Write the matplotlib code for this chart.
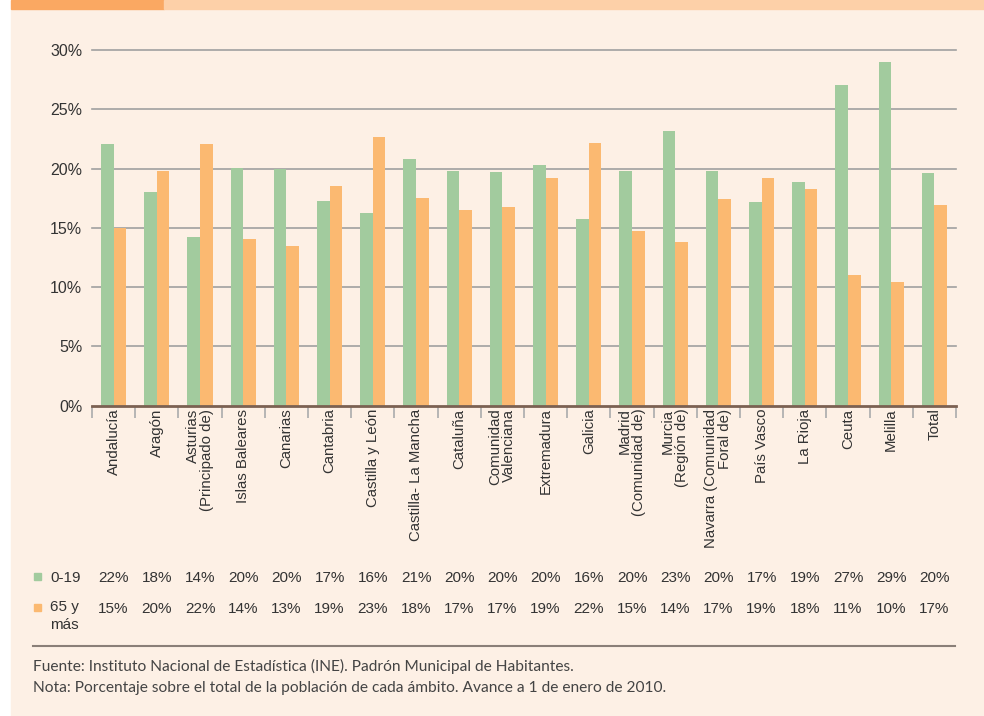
import numpy as np
import matplotlib.pyplot as plt
from matplotlib.patches import Rectangle
from matplotlib.ticker import FixedLocator
import matplotlib.transforms as mtransforms

# ---- datos ----
comunidades = [
    "Andalucía", "Aragón", "Asturias\n(Principado de)", "Islas Baleares",
    "Canarias", "Cantabria", "Castilla y León", "Castilla- La Mancha",
    "Cataluña", "Comunidad\nValenciana", "Extremadura", "Galicia",
    "Madrid\n(Comunidad de)", "Murcia\n(Región de)", "Navarra (Comunidad\nForal de)",
    "País Vasco", "La Rioja", "Ceuta", "Melilla", "Total",
]
jovenes = [22.07, 18.03, 14.23, 20.05, 19.97, 17.27, 16.26, 20.81, 19.80, 19.71,
           20.29, 15.75, 19.80, 23.17, 19.80, 17.18, 18.87, 27.05, 28.99, 19.63]
mayores = [15.0, 19.80, 22.07, 14.06, 13.47, 18.53, 22.66, 17.49, 16.51, 16.76,
           19.21, 22.16, 14.74, 13.81, 17.44, 19.21, 18.28, 11.03, 10.44, 16.93]
tabla_jovenes = ["22%", "18%", "14%", "20%", "20%", "17%", "16%", "21%", "20%", "20%",
                 "20%", "16%", "20%", "23%", "20%", "17%", "19%", "27%", "29%", "20%"]
tabla_mayores = ["15%", "20%", "22%", "14%", "13%", "19%", "23%", "18%", "17%", "17%",
                 "19%", "22%", "15%", "14%", "17%", "19%", "18%", "11%", "10%", "17%"]
series = ["0-19", "65 y\nmás"]
y_ticks = [0, 5, 10, 15, 20, 25, 30]
fuente = "Fuente: Instituto Nacional de Estadística (INE). Padrón Municipal de Habitantes."
nota = "Nota: Porcentaje sobre el total de la población de cada ámbito. Avance a 1 de enero de 2010."

# ---- colores ----
VERDE = "#A2CB9E"
NARANJA = "#FBB971"
FONDO = "#FDF0E5"
GRIS = "#A0A0A0"
TEXTO = "#333333"

W, H = 984, 716
plt.rcParams['font.family'] = ['Liberation Sans', 'DejaVu Sans']

fig = plt.figure(figsize=(W / 100, H / 100), dpi=100)
fig.patch.set_facecolor("white")


def caja(x, y, w, h, color, **kw):
    # rectangulo en pixeles (origen arriba-izquierda)
    r = Rectangle((x / W, 1 - (y + h) / H), w / W, h / H,
                  transform=fig.transFigure, color=color, **kw)
    fig.add_artist(r)


# fondo crema y franja superior
caja(11, 9, W - 11, H - 9, FONDO, zorder=-10)
caja(11, 0, 153, 9, "#FAA862", zorder=-10)
caja(164, 0, W - 164, 9, "#FDD0A8", zorder=-10)

# ---- ejes ----
y0, ppu = 405.8, 11.86
ymax = 30.1
alto = ymax * ppu
ax = fig.add_axes((92 / W, 1 - y0 / H, 864 / W, alto / H))
ax.set_facecolor("none")

n = len(comunidades)
x = np.arange(n)
bw = 0.29
ax.bar(x - bw / 2, jovenes, bw, color=VERDE, zorder=3)
ax.bar(x + bw / 2, mayores, bw, color=NARANJA, zorder=3)

ax.set_xlim(-0.5, n - 0.5)
ax.set_ylim(0, ymax)
ax.set_yticks(y_ticks)
ax.set_yticklabels([f"{v}%" for v in y_ticks])
for v in y_ticks[1:]:
    ax.axhline(v, color=GRIS, lw=1.2, zorder=1, clip_on=False)

for s in ["top", "right", "left"]:
    ax.spines[s].set_visible(False)
ax.spines["bottom"].set_color("#7B6152")
ax.spines["bottom"].set_linewidth(2)
ax.spines["bottom"].set_zorder(4)

ax.tick_params(axis="y", length=0, pad=7, labelsize=11.5, labelcolor=TEXTO)
ax.set_xticks(x)
ax.set_xticklabels(comunidades, rotation=90, fontsize=10.8, color=TEXTO,
                   multialignment="right", linespacing=1.0)
ax.tick_params(axis="x", which="major", length=0, pad=2)
ax.xaxis.set_minor_locator(FixedLocator(np.arange(n + 1) - 0.5))
ax.tick_params(axis="x", which="minor", length=8.5, width=1.3, color="#B0B0B0",
               direction="out")

# ---- tabla de datos ----
trans = mtransforms.blended_transform_factory(ax.transData, fig.transFigure)
fila1, fila2 = 1 - 578 / H, 1 - 609 / H
for i in range(n):
    ax.text(x[i], fila1, tabla_jovenes[i], transform=trans, ha="center", va="center",
            fontsize=11, color=TEXTO)
    ax.text(x[i], fila2, tabla_mayores[i], transform=trans, ha="center", va="center",
            fontsize=11, color=TEXTO)

caja(34, 573, 7, 7, VERDE)
caja(34, 604, 7, 7, NARANJA)
fig.text(50 / W, fila1, series[0], ha="left", va="center", fontsize=11, color=TEXTO)
fig.text(50 / W, 1 - 600 / H, series[1], ha="left", va="top", fontsize=11,
         color=TEXTO, linespacing=1.35)

# linea separadora y notas
fig.add_artist(plt.Line2D([33 / W, 955 / W], [1 - 646 / H, 1 - 646 / H],
                          transform=fig.transFigure, color="#8A7F78", lw=1.5))
fig.text(33 / W, 1 - 666 / H, fuente, ha="left", va="center", fontsize=11.2,
         color="#444444", family=["Lato", "DejaVu Sans"])
fig.text(33 / W, 1 - 688 / H, nota, ha="left", va="center", fontsize=11.2,
         color="#444444", family=["Lato", "DejaVu Sans"])

fig.savefig("out.png", dpi=100, facecolor=fig.get_facecolor())
